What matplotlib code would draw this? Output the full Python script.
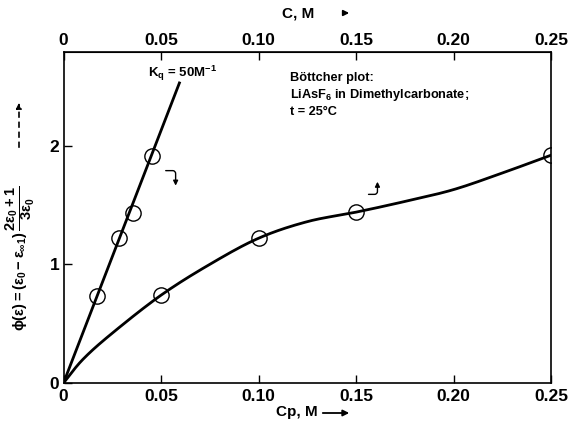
import matplotlib
matplotlib.use("Agg")
import matplotlib.pyplot as plt
import numpy as np

plt.rcParams['font.family'] = ['Liberation Sans', 'DejaVu Sans']
plt.rcParams['font.weight'] = 'bold'
plt.rcParams['mathtext.fontset'] = 'custom'
plt.rcParams['mathtext.rm'] = 'Liberation Sans:bold'
plt.rcParams['mathtext.it'] = 'Liberation Sans:bold'
plt.rcParams['mathtext.bf'] = 'Liberation Sans:bold'

# Measured points vs total concentration C (steep line, K_q fit)
c_pts = [0.0172, 0.0285, 0.0356, 0.0455]
phi_c = [0.73, 1.22, 1.43, 1.91]

# Measured points vs free-ion concentration Cp (curve)
cp_pts = [0.0, 0.05, 0.10, 0.15, 0.25]
phi_cp = [0.0, 0.74, 1.22, 1.44, 1.92]

# Fitted straight line through origin
kq_line_x = [0.0, 0.0597]
kq_line_y = [0.0, 2.54]

# Curve traced through the Cp points
curve_x = [0.0, 0.01, 0.025, 0.05, 0.075, 0.10, 0.125, 0.15, 0.175, 0.20, 0.225, 0.25]
curve_y = [0.0, 0.20, 0.42, 0.74, 1.00, 1.22, 1.36, 1.44, 1.53, 1.63, 1.77, 1.92]

x_ticks = [0, 0.05, 0.10, 0.15, 0.20, 0.25]
x_ticklabels = ['0', '0.05', '0.10', '0.15', '0.20', '0.25']
y_ticks = [0, 1, 2]


def catmull_rom(xs, ys, n=20):
    """Smooth Catmull-Rom path through the traced points."""
    p = np.column_stack([xs, ys])
    p = np.vstack([2 * p[0] - p[1], p, 2 * p[-1] - p[-2]])
    out = []
    t = np.linspace(0, 1, n, endpoint=False)[:, None]
    for i in range(1, len(p) - 2):
        p0, p1, p2, p3 = p[i - 1], p[i], p[i + 1], p[i + 2]
        seg = 0.5 * ((2 * p1) + (-p0 + p2) * t + (2 * p0 - 5 * p1 + 4 * p2 - p3) * t ** 2
                     + (-p0 + 3 * p1 - 3 * p2 + p3) * t ** 3)
        out.append(seg)
    out.append(p[-2][None, :])
    out = np.vstack(out)
    return out[:, 0], out[:, 1]


fig = plt.figure(figsize=(5.75, 4.26), dpi=100)
ax = fig.add_axes([63.5/575, 1 - 383/426, (551 - 63.5)/575, (383 - 52)/426])

sx, sy = catmull_rom(curve_x, curve_y)
ax.plot(kq_line_x, kq_line_y, color='black', lw=2.0, solid_capstyle='butt')
ax.plot(sx, sy, color='black', lw=2.0)
ax.plot(c_pts, phi_c, 'o', ms=11, mfc='none', mec='black', mew=1.0)
ax.plot(cp_pts[1:], phi_cp[1:], 'o', ms=11, mfc='none', mec='black', mew=1.0)

ax.set_xlim(0, 0.25)
ax.set_ylim(0, 2.79)
ax.set_xticks(x_ticks)
ax.set_xticklabels(x_ticklabels)
ax.set_yticks(y_ticks)
ax.tick_params(direction='in', length=6, width=1, labelsize=12.5, pad=3)
ax.tick_params(axis='x', pad=4)
for s in ax.spines.values():
    s.set_linewidth(1.2)

top = ax.secondary_xaxis('top')
top.set_xticks(x_ticks)
top.set_xticklabels(x_ticklabels)
top.tick_params(direction='in', length=6, width=1, labelsize=12.5, pad=3)

# Axis titles
fig.text(318/575, 1 - 412/426, 'Cp, M', ha='right', va='center', fontsize=11, fontweight='bold')
ax.annotate('', xy=(352/575, 1 - 413/426), xytext=(320/575, 1 - 413/426),
            xycoords='figure fraction',
            arrowprops=dict(arrowstyle='-|>', color='black', lw=1.3, mutation_scale=9))
fig.text(298/575, 1 - 13/426, 'C, M', ha='center', va='center', fontsize=11, fontweight='bold')
ax.annotate('', xy=(352/575, 1 - 13/426), xytext=(341/575, 1 - 13/426),
            xycoords='figure fraction',
            arrowprops=dict(arrowstyle='-|>', color='black', lw=1.3, mutation_scale=8))

fig.text(20/575, 1 - 258/426,
         r'$\phi(\epsilon)=(\epsilon_0-\epsilon_{\infty 1})\,\dfrac{2\epsilon_0+1}{3\epsilon_0}$',
         rotation=90, ha='center', va='center', fontsize=10.5)
ax.annotate('', xy=(19/575, 1 - 100/426), xytext=(19/575, 1 - 150/426),
            xycoords='figure fraction',
            arrowprops=dict(arrowstyle='-|>', color='black', lw=1.2, ls=(0, (3, 3)),
                            mutation_scale=8))

# In-plot notes
ax.text(0.0435, 2.61, r'K$_\mathregular{q}$ = 50M$^\mathregular{-1}$', fontsize=9.5,
        fontweight='bold', va='center')
ax.text(0.116, 2.62, 'Böttcher plot:\nLiAsF$_\\mathregular{6}$ in Dimethylcarbonate;\nt = 25°C',
        fontsize=9.2, fontweight='bold', va='top', linespacing=1.3)

# Hooked arrows pointing to the relevant axis
ax.annotate('', xy=(0.0575, 1.64), xytext=(0.051, 1.79),
            arrowprops=dict(arrowstyle='-|>', color='black', lw=1.0, mutation_scale=7,
                            connectionstyle='angle,angleA=0,angleB=90,rad=3'))
ax.annotate('', xy=(0.161, 1.72), xytext=(0.155, 1.59),
            arrowprops=dict(arrowstyle='-|>', color='black', lw=1.0, mutation_scale=7,
                            connectionstyle='angle,angleA=0,angleB=90,rad=3'))

fig.savefig('out.png', dpi=100)
